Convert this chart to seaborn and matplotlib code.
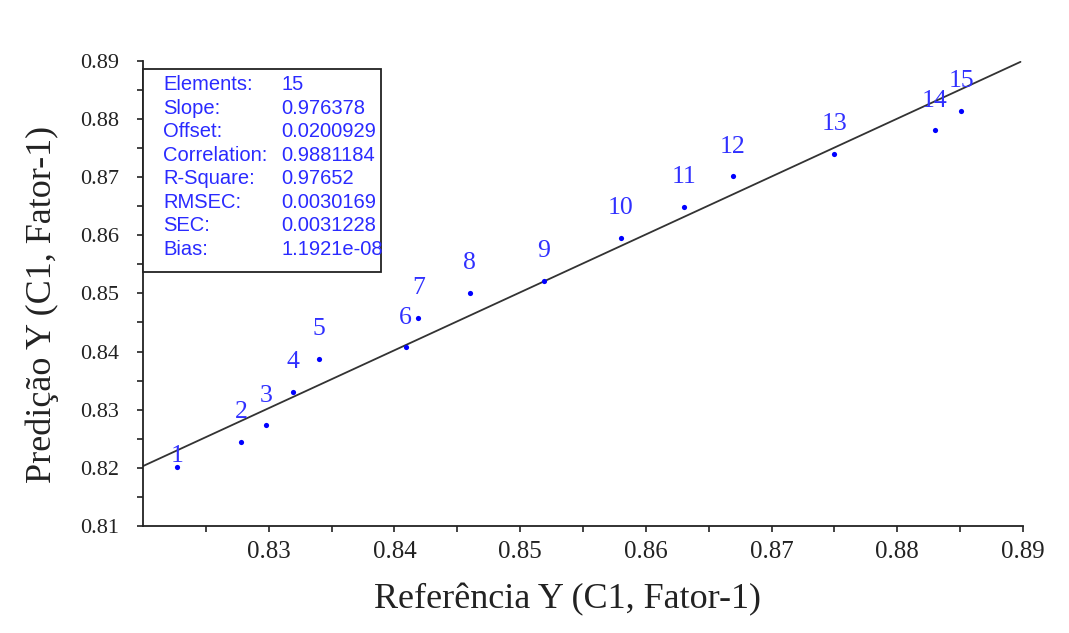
import matplotlib
matplotlib.use("Agg")
import matplotlib.pyplot as plt
from matplotlib.patches import Rectangle
from matplotlib.ticker import FixedLocator
import numpy as np
import pandas as pd
import seaborn as sns

# ---- data ----
sample_ids = [str(i) for i in range(1, 16)]
reference_y = [0.8227, 0.8278, 0.8298, 0.8319, 0.8340, 0.8409, 0.8419, 0.8460,
               0.8519, 0.8580, 0.8630, 0.8669, 0.8750, 0.8830, 0.8851]
predicted_y = [0.8201, 0.8244, 0.8273, 0.8330, 0.8387, 0.8407, 0.8457, 0.8500,
               0.8521, 0.8596, 0.8649, 0.8701, 0.8739, 0.8780, 0.8814]
fit_x = [0.8200, 0.8898]
fit_y = [0.8203, 0.8898]
stat_names = ["Elements:", "Slope:", "Offset:", "Correlation:", "R-Square:",
              "RMSEC:", "SEC:", "Bias:"]
stat_values = ["15", "0.976378", "0.0200929", "0.9881184", "0.97652",
               "0.0030169", "0.0031228", "1.1921e-08"]
x_ticks = [0.83, 0.84, 0.85, 0.86, 0.87, 0.88, 0.89]
y_ticks = [0.81, 0.82, 0.83, 0.84, 0.85, 0.86, 0.87, 0.88, 0.89]
x_label = "Referência Y (C1, Fator-1)"
y_label = "Predição Y (C1, Fator-1)"

df = pd.DataFrame({"ref": reference_y, "pred": predicted_y, "id": sample_ids})
fit_df = pd.DataFrame({"x": fit_x, "y": fit_y})

sns.set_theme(style="white")
plt.rcParams["font.family"] = ["Liberation Serif", "DejaVu Serif"]

W, H = 1069, 633
fig = plt.figure(figsize=(W / 100, H / 100), dpi=100)
ax = fig.add_axes([143 / W, 1 - 526 / H, 880 / W, (526 - 60.7) / H])

sns.lineplot(data=fit_df, x="x", y="y", ax=ax, color="#333333", lw=1.3,
             zorder=2)
sns.scatterplot(data=df, x="ref", y="pred", ax=ax, color="#0000ff", s=14,
                linewidth=0, zorder=3)

label_color = "#3030ff"
for i, (xv, yv, t) in enumerate(zip(reference_y, predicted_y, sample_ids)):
    dy = 8.0 if i == 0 else 21.5
    ax.annotate(t, (xv, yv), xytext=(0, dy), textcoords="offset points",
                ha="center", va="center", fontsize=18.5, color=label_color,
                family=["Liberation Serif"])

ax.set_xlim(0.82, 0.89)
ax.set_ylim(0.81, 0.89)
ax.xaxis.set_major_locator(FixedLocator(x_ticks))
ax.yaxis.set_major_locator(FixedLocator(y_ticks))
ax.xaxis.set_minor_locator(FixedLocator(list(np.arange(0.825, 0.889, 0.01))))
ax.yaxis.set_minor_locator(FixedLocator(list(np.arange(0.815, 0.889, 0.01))))
ax.set_xticklabels([f"{v:.2f}" for v in x_ticks])
ax.set_yticklabels([f"{v:.2f}" for v in y_ticks])

for s in ["top", "right"]:
    ax.spines[s].set_visible(False)
for s in ["left", "bottom"]:
    ax.spines[s].set_color("#222222")
    ax.spines[s].set_linewidth(1.3)

ax.tick_params(axis="both", which="both", direction="out", length=4.5,
               width=1.2, color="#222222", left=True, bottom=True)
ax.tick_params(axis="x", which="major", labelsize=18, pad=6,
               labelcolor="#222222")
ax.tick_params(axis="y", which="major", labelsize=16, pad=13,
               labelcolor="#222222")

ax.set_xlabel(x_label, fontsize=26, color="#222222", va="center")
ax.xaxis.set_label_coords((568 - 143) / 880, (526 - 600) / (526 - 60.7))
ax.set_ylabel(y_label, fontsize=26, color="#222222", va="center")
ax.yaxis.set_label_coords((42 - 143) / 880, (526 - 304) / (526 - 60.7))

# statistics box
ah = 526 - 60.7
box_top = (526 - 69.3) / ah
box_bot = (526 - 271.7) / ah
box = Rectangle((0, box_bot), (381 - 143) / 880, box_top - box_bot,
                transform=ax.transAxes, facecolor="white",
                edgecolor="#222222", lw=1.3, zorder=4, clip_on=False)
ax.add_patch(box)
stat_color = "#2a2aff"
for i, (n, v) in enumerate(zip(stat_names, stat_values)):
    yy = (526 - (85 + 23.5 * i)) / ah
    ax.text((163.5 - 143) / 880, yy, n, transform=ax.transAxes,
            ha="left", va="center", fontsize=14.5, color=stat_color,
            family=["Liberation Sans"], zorder=5)
    ax.text((281.5 - 143) / 880, yy, v, transform=ax.transAxes,
            ha="left", va="center", fontsize=14.5, color=stat_color,
            family=["Liberation Sans"], zorder=5)

fig.savefig("out.png", dpi=100, facecolor="white")
